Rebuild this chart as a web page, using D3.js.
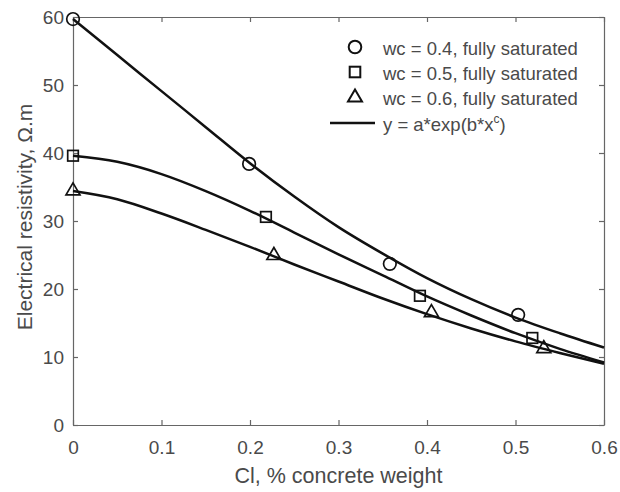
<!DOCTYPE html>
<html lang="en">
<head>
<meta charset="UTF-8">
<title>Electrical resistivity vs Cl</title>
<script src="https://cdnjs.cloudflare.com/ajax/libs/d3/7.8.5/d3.min.js"></script>
<style>
    body { margin: 0; background: #fff; font-family: Arial, "Liberation Sans", sans-serif; }
    svg text { fill: #4a4a4a; }
</style>
</head>
<body>
<div id="chart"></div>
<script>
    const xs04 = [0, 0.199, 0.358, 0.503];
    const ys04 = [59.7, 38.4, 23.7, 16.2];
    const xs05 = [0, 0.218, 0.392, 0.519];
    const ys05 = [39.6, 30.6, 19.0, 12.8];
    const xs06 = [0, 0.227, 0.405, 0.532];
    const ys06 = [34.5, 25.0, 16.6, 11.3];

    // fitted curves, every 0.05
    const fitX = [0, 0.05, 0.1, 0.15, 0.2, 0.25, 0.3, 0.35, 0.4, 0.45, 0.5, 0.55, 0.6];
    const fit04 = [59.7, 54.4, 49.1, 43.8, 38.5, 33.6, 29.1, 25.2, 21.6, 18.5, 15.8, 13.5, 11.4];
    const fit05 = [39.6, 38.7, 36.9, 34.4, 31.5, 28.3, 25.1, 22.0, 18.9, 16.1, 13.5, 11.2, 9.2];
    const fit06 = [34.4, 33.2, 31.1, 28.7, 26.2, 23.6, 21.1, 18.6, 16.3, 14.2, 12.3, 10.6, 9.0];

    const xTicks = [0, 0.1, 0.2, 0.3, 0.4, 0.5, 0.6];
    const yTicks = [0, 10, 20, 30, 40, 50, 60];
    const legendLabels = ["wc = 0.4, fully saturated", "wc = 0.5, fully saturated", "wc = 0.6, fully saturated"];

    const W = 620, H = 492;
    const margin = {top: 17, right: 16, bottom: 67, left: 73};
    const width = W - margin.left - margin.right;
    const height = H - margin.top - margin.bottom;

    const svg = d3.select("#chart").append("svg")
        .attr("width", W).attr("height", H);
    const g = svg.append("g")
        .attr("transform", `translate(${margin.left},${margin.top})`);

    const x = d3.scaleLinear().domain([0, 0.6]).range([0, width]);
    const y = d3.scaleLinear().domain([0, 60]).range([height, 0]);

    const axisColor = "#666";

    // axes (MATLAB style: ticks inside, box all round)
    const axBottom = g.append("g").attr("transform", `translate(0,${height})`)
        .call(d3.axisBottom(x).tickValues(xTicks).tickSize(-5).tickSizeOuter(0).tickPadding(16)
            .tickFormat(d => d === 0 ? "0" : d3.format(".1f")(d)));
    const axLeft = g.append("g")
        .call(d3.axisLeft(y).tickValues(yTicks).tickSize(-5).tickSizeOuter(0).tickPadding(9));
    const axTop = g.append("g")
        .call(d3.axisTop(x).tickValues(xTicks).tickSize(-5).tickSizeOuter(0).tickFormat(""));
    const axRight = g.append("g").attr("transform", `translate(${width},0)`)
        .call(d3.axisRight(y).tickValues(yTicks).tickSize(-5).tickSizeOuter(0).tickFormat(""));

    [axBottom, axLeft, axTop, axRight].forEach(a => {
        a.selectAll("path, line").attr("stroke", axisColor).attr("stroke-width", 1.2);
        a.selectAll("text").style("font-size", "19px").attr("fill", "#4a4a4a");
    });

    // axis labels
    g.append("text")
        .attr("x", width / 2).attr("y", height + 58)
        .attr("text-anchor", "middle")
        .style("font-size", "21.5px")
        .text("Cl, % concrete weight");
    g.append("text")
        .attr("transform", "rotate(-90)")
        .attr("x", -200).attr("y", -41)
        .attr("text-anchor", "middle")
        .style("font-size", "21px")
        .text("Electrical resistivity, \u03A9.m");

    // fitted lines
    const line = d3.line()
        .x((d, i) => x(fitX[i]))
        .y(d => y(d))
        .curve(d3.curveMonotoneX);

    [fit04, fit05, fit06].forEach(f => {
        g.append("path")
            .datum(f)
            .attr("fill", "none")
            .attr("stroke", "#111")
            .attr("stroke-width", 2.5)
            .attr("d", line);
    });

    // markers
    function drawMarker(sel, type, px, py) {
        if (type === 0) {
            sel.append("circle").attr("cx", px).attr("cy", py).attr("r", 6.3);
        } else if (type === 1) {
            sel.append("rect").attr("x", px - 5.3).attr("y", py - 5.3)
                .attr("width", 10.6).attr("height", 10.6);
        } else {
            sel.append("path")
                .attr("d", `M${px},${py - 7.5}L${px + 7},${py + 4.5}L${px - 7},${py + 4.5}Z`);
        }
    }

    const markers = g.append("g")
        .attr("fill", "none")
        .attr("stroke", "#111")
        .attr("stroke-width", 1.7);
    [[xs04, ys04], [xs05, ys05], [xs06, ys06]].forEach(([xv, yv], k) => {
        xv.forEach((v, i) => drawMarker(markers, k, x(v), y(yv[i])));
    });

    // legend
    const legend = svg.append("g").attr("transform", "translate(330,47)");
    const legMarks = legend.append("g")
        .attr("fill", "none").attr("stroke", "#111").attr("stroke-width", 2);
    legendLabels.forEach((t, i) => {
        drawMarker(legMarks, i, 25, i * 25);
        legend.append("text")
            .attr("x", 53).attr("y", i * 25 + 7.5)
            .style("font-size", "18.5px")
            .text(t);
    });
    legend.append("line")
        .attr("x1", 0).attr("x2", 45)
        .attr("y1", 76).attr("y2", 76)
        .attr("stroke", "#111").attr("stroke-width", 2.5);
    const fitText = legend.append("text")
        .attr("x", 53).attr("y", 84)
        .style("font-size", "18.5px");
    fitText.append("tspan").text("y = a*exp(b*x");
    fitText.append("tspan").attr("dy", -8).style("font-size", "12px").text("c");
    fitText.append("tspan").attr("dy", 8).text(")");
</script>
</body>
</html>
